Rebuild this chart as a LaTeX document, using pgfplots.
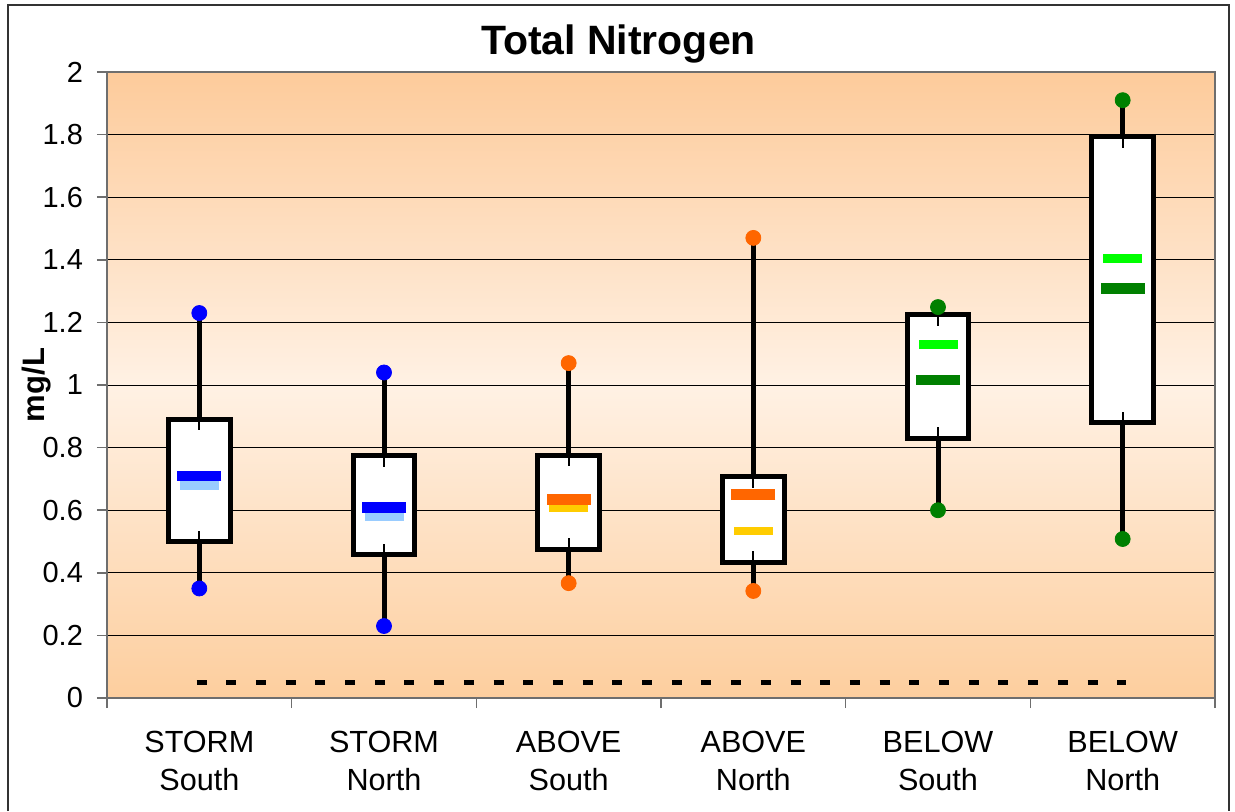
\documentclass[border=0pt]{standalone}
\usepackage{fontspec}
\setmainfont{Liberation Sans}
\usepackage{pgfplots}
\pgfplotsset{compat=1.18}
\usepgfplotslibrary{statistics}

\definecolor{bgtop}{RGB}{253,203,155}
\definecolor{bgmid}{RGB}{255,241,228}
\definecolor{bgbot}{RGB}{253,206,158}
\definecolor{dotblue}{RGB}{0,0,255}
\definecolor{ltblue}{RGB}{153,204,255}
\definecolor{dotorange}{RGB}{255,102,0}
\definecolor{ltyellow}{RGB}{255,204,0}
\definecolor{dkgreen}{RGB}{0,128,0}
\definecolor{ltgreen}{RGB}{0,255,0}
\definecolor{axisgray}{RGB}{110,110,110}

% one box: position, min, q1, q3, max
\newcommand{\tnbox}[5]{%
  \addplot[black, line width=2.5pt, fill=white,
    boxplot prepared={draw position=#1, lower whisker=#2, lower quartile=#3,
      median=#3, upper quartile=#4, upper whisker=#5,
      box extend=0.333, whisker extend=0}] coordinates {};}

\begin{document}
\begin{tikzpicture}
\useasboundingbox (-53.5pt,-56.5pt) rectangle (564pt,349pt);
% plot area background
\shade[top color=bgtop, bottom color=bgbot, middle color=bgmid] (0,0) rectangle (554pt,313pt);
\begin{axis}[
  at={(0,0)}, anchor=south west,
  scale only axis, width=554pt, height=313pt,
  xmin=-0.5, xmax=5.5, ymin=0, ymax=2,
  boxplot/draw direction=y,
  axis line style={axisgray, line width=1pt},
  ymajorgrids, grid style={black, line width=0.5pt},
  tick align=outside, xtick pos=bottom, ytick pos=left,
  major tick length=5pt, tick style={axisgray, line width=0.8pt},
  ytick={0,0.2,0.4,0.6,0.8,1,1.2,1.4,1.6,1.8,2},
  /pgf/number format/assume math mode=true,
  yticklabel style={font=\fontsize{14.5}{16}\selectfont, xshift=-3.5pt},
  xtick={-0.5,0.5,...,5.5},
  x tick label as interval,
  xticklabels={STORM\\South, STORM\\North, ABOVE\\South, ABOVE\\North, BELOW\\South, BELOW\\North},
  xticklabel style={font=\fontsize{15.3}{19}\selectfont, align=center, yshift=-8pt},
  title={Total Nitrogen},
  title style={font=\fontsize{20.5}{24}\selectfont\bfseries,
    at={(axis description cs:0.4616,1)}, anchor=base, yshift=3pt},
  ylabel={mg/L},
  every axis y label/.style={at={(axis description cs:-0.064,0.5)}, rotate=90,
    anchor=center, font=\fontsize{15.5}{18}\selectfont\bfseries},
]
% detection limit line
\addplot[black, line width=2.6pt, dash pattern=on 5pt off 9.85pt] coordinates {(-0.015,0.05) (5.016,0.05)};

\tnbox{0}{0.35}{0.50}{0.89}{1.23}
\tnbox{1}{0.23}{0.457}{0.774}{1.04}
\tnbox{2}{0.367}{0.476}{0.776}{1.07}
\tnbox{3}{0.342}{0.434}{0.707}{1.47}
\tnbox{4}{0.60}{0.83}{1.224}{1.249}
\tnbox{5}{0.508}{0.88}{1.793}{1.91}

% whisker stubs inside the boxes
\addplot[black, line width=1pt, unbounded coords=jump] coordinates {
  (0,0.89)(0,0.855) (0,nan) (0,0.50)(0,0.535) (0,nan)
  (1,0.774)(1,0.739) (1,nan) (1,0.457)(1,0.492) (1,nan)
  (2,0.776)(2,0.741) (2,nan) (2,0.476)(2,0.511) (2,nan)
  (3,0.707)(3,0.672) (3,nan) (3,0.434)(3,0.469) (3,nan)
  (4,1.26)(4,1.189) (4,nan) (4,0.83)(4,0.865) (4,nan)
  (5,1.793)(5,1.758) (5,nan) (5,0.88)(5,0.915)
};

% min and max
\addplot[only marks, mark=*, mark size=3.75pt, color=dotblue] coordinates {(0,1.23)(0,0.35)(1,1.04)(1,0.23)};
\addplot[only marks, mark=*, mark size=3.75pt, color=dotorange] coordinates {(2,1.07)(2,0.367)(3,1.47)(3,0.342)};
\addplot[only marks, mark=*, mark size=3.75pt, color=dkgreen] coordinates {(4,1.249)(4,0.60)(5,1.91)(5,0.508)};

% light bars
\addplot[only marks, mark=-, mark size=9.75pt, color=ltblue, mark options={line width=4.35pt}] coordinates {(0,0.68)(1,0.58)};
\addplot[only marks, mark=-, mark size=9.75pt, color=ltyellow, mark options={line width=4.35pt}] coordinates {(2,0.608)(3,0.534)};
\addplot[only marks, mark=-, mark size=9.75pt, color=ltgreen, mark options={line width=4.35pt}] coordinates {(4,1.13)(5,1.405)};
% dark bars
\addplot[only marks, mark=-, mark size=11pt, color=dotblue, mark options={line width=5.25pt}] coordinates {(0,0.71)(1,0.608)};
\addplot[only marks, mark=-, mark size=11pt, color=dotorange, mark options={line width=5.25pt}] coordinates {(2,0.634)(3,0.651)};
\addplot[only marks, mark=-, mark size=11pt, color=dkgreen, mark options={line width=5.25pt}] coordinates {(4,1.016)(5,1.309)};
\end{axis}
\draw[line width=1pt, black!80] (-49.5pt,-56.5pt) -- (-49.5pt,346.5pt) -- (561pt,346.5pt) -- (561pt,-56.5pt);
\end{tikzpicture}
\end{document}
